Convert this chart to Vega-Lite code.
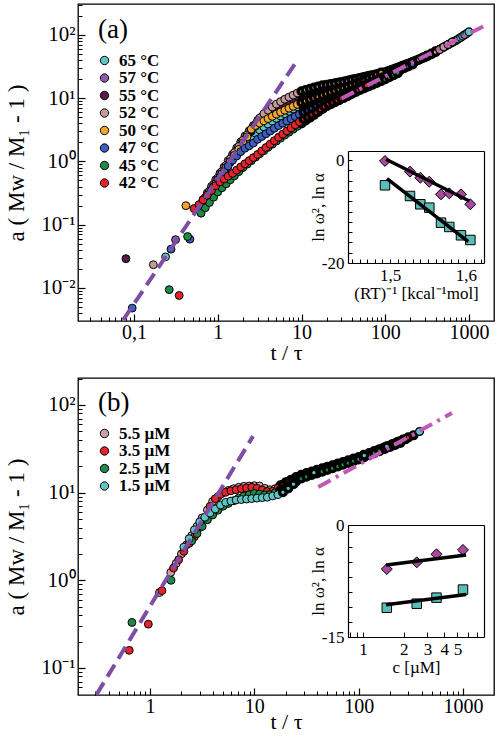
{
"$schema": "https://vega.github.io/schema/vega-lite/v6.json",
"padding": {"left": 5, "top": 3, "right": 0, "bottom": 0},
"spacing": 12,
"config": {
 "font": "Liberation Serif",
 "view": {"stroke": "black", "strokeWidth": 1.3},
 "axis": {"labelFont": "Liberation Serif", "titleFont": "Liberation Serif", "titleFontWeight": "normal", "labelColor": "black", "titleColor": "black", "tickColor": "black", "domainColor": "black", "domainWidth": 1.2, "grid": false, "labelFlush": false, "labelOverlap": false},
 "legend": {"title": null, "padding": 0, "rowPadding": -0.5, "symbolType": "circle", "symbolSize": 70, "symbolStrokeColor": "black", "symbolStrokeWidth": 1, "labelFont": "Liberation Serif", "labelFontWeight": "bold", "labelFontSize": 17, "labelColor": "black", "labelOffset": 6},
 "title": {"font": "Liberation Serif", "fontWeight": "normal", "color": "black"}
},
"resolve": {"scale": {"x": "independent", "y": "independent", "color": "independent", "strokeWidth": "independent", "size": "independent"}},
"datasets": {
 "ptsA": [
  {"s":"65","t":0.238,"y":0.031},{"s":"65","t":0.708,"y":0.245},{"s":"65","t":0.794,"y":0.311},{"s":"65","t":0.891,"y":0.394},{"s":"65","t":1,"y":0.5},{"s":"65","t":1.12,"y":0.624},{"s":"65","t":1.26,"y":0.78},{"s":"65","t":1.41,"y":0.97},{"s":"65","t":1.58,"y":1.21},{"s":"65","t":1.78,"y":1.52},{"s":"65","t":2,"y":1.9},{"s":"65","t":2.24,"y":2.16},{"s":"65","t":2.51,"y":2.45},{"s":"65","t":2.82,"y":2.8},{"s":"65","t":3.16,"y":3.15},{"s":"65","t":3.55,"y":3.5},{"s":"65","t":3.98,"y":3.89},{"s":"65","t":4.47,"y":4.33},{"s":"65","t":5.01,"y":4.8},{"s":"65","t":5.62,"y":5.23},{"s":"65","t":6.31,"y":5.7},{"s":"65","t":7.08,"y":6.21},{"s":"65","t":7.94,"y":6.75},{"s":"65","t":8.91,"y":7.35},{"s":"65","t":10,"y":8},{"s":"65","t":11.2,"y":8.5},{"s":"65","t":12.6,"y":9.02},{"s":"65","t":14.1,"y":9.59},{"s":"65","t":15.8,"y":10.2},{"s":"65","t":17.8,"y":10.8},{"s":"65","t":20,"y":11.5},{"s":"65","t":22.4,"y":12.1},{"s":"65","t":25.1,"y":12.8},{"s":"65","t":28.2,"y":13.5},{"s":"65","t":31.6,"y":14.2},{"s":"65","t":35.5,"y":15},{"s":"65","t":39.8,"y":15.8},{"s":"65","t":44.7,"y":16.6},{"s":"65","t":50.1,"y":17.5},{"s":"65","t":56.2,"y":18.5},{"s":"65","t":63.1,"y":19.5},{"s":"65","t":70.8,"y":20.5},{"s":"65","t":79.4,"y":21.6},{"s":"65","t":89.1,"y":22.8},{"s":"65","t":100,"y":24},{"s":"65","t":112,"y":25.5},{"s":"65","t":126,"y":27.2},{"s":"65","t":141,"y":29},{"s":"65","t":158,"y":30.8},{"s":"65","t":178,"y":32.8},{"s":"65","t":200,"y":35},{"s":"65","t":224,"y":37.7},{"s":"65","t":251,"y":40.6},{"s":"65","t":282,"y":43.8},{"s":"65","t":316,"y":47.2},{"s":"65","t":355,"y":50.9},{"s":"65","t":398,"y":55},{"s":"65","t":422,"y":57.2},{"s":"65","t":447,"y":59.5},{"s":"65","t":473,"y":62},{"s":"65","t":501,"y":64.6},{"s":"65","t":531,"y":67.3},{"s":"65","t":562,"y":70.2},{"s":"65","t":596,"y":73.1},{"s":"65","t":631,"y":76.2},{"s":"65","t":668,"y":79.4},{"s":"65","t":708,"y":82.8},{"s":"65","t":750,"y":86.9},{"s":"65","t":794,"y":91.4},{"s":"65","t":841,"y":96},{"s":"65","t":891,"y":101},{"s":"65","t":944,"y":106},{"s":"65","t":1000,"y":112},
  {"s":"57","t":0.313,"y":0.058},{"s":"57","t":0.596,"y":0.197},{"s":"57","t":0.668,"y":0.251},{"s":"57","t":0.75,"y":0.318},{"s":"57","t":0.841,"y":0.404},{"s":"57","t":0.944,"y":0.514},{"s":"57","t":1.06,"y":0.65},{"s":"57","t":1.19,"y":0.817},{"s":"57","t":1.33,"y":1.03},{"s":"57","t":1.5,"y":1.29},{"s":"57","t":1.68,"y":1.63},{"s":"57","t":1.88,"y":2.04},{"s":"57","t":2.11,"y":2.52},{"s":"57","t":2.37,"y":3.05},{"s":"57","t":2.66,"y":3.69},{"s":"57","t":2.99,"y":4.47},{"s":"57","t":3.35,"y":5.12},{"s":"57","t":3.76,"y":5.85},{"s":"57","t":4.22,"y":6.62},{"s":"57","t":4.73,"y":7.39},{"s":"57","t":5.31,"y":8.15},{"s":"57","t":5.96,"y":8.87},{"s":"57","t":6.68,"y":9.66},{"s":"57","t":7.5,"y":10.4},{"s":"57","t":8.41,"y":11.2},{"s":"57","t":9.44,"y":12.1},{"s":"57","t":10.6,"y":12.8},{"s":"57","t":11.9,"y":13.3},{"s":"57","t":13.3,"y":13.9},{"s":"57","t":15,"y":14.5},{"s":"57","t":16.8,"y":15.1},{"s":"57","t":18.8,"y":15.7},{"s":"57","t":21.1,"y":16.3},{"s":"57","t":23.7,"y":16.8},{"s":"57","t":26.6,"y":17.3},{"s":"57","t":29.9,"y":17.9},{"s":"57","t":33.5,"y":18.5},{"s":"57","t":37.6,"y":19.2},{"s":"57","t":42.2,"y":19.8},{"s":"57","t":47.3,"y":20.5},{"s":"57","t":53.1,"y":21.2},{"s":"57","t":59.6,"y":21.9},{"s":"57","t":66.8,"y":22.7},{"s":"57","t":75,"y":23.4},{"s":"57","t":84.1,"y":24.3},{"s":"57","t":94.4,"y":25.1},{"s":"57","t":106,"y":26.3},{"s":"57","t":119,"y":27.8},{"s":"57","t":133,"y":29.4},{"s":"57","t":150,"y":31.2},{"s":"57","t":168,"y":33},{"s":"57","t":188,"y":34.9},{"s":"57","t":211,"y":37.1},{"s":"57","t":237,"y":39.5},{"s":"57","t":266,"y":42.1},{"s":"57","t":299,"y":44.9},
  {"s":"55","t":0.08,"y":0.029},{"s":"55","t":1.58,"y":1.34},{"s":"55","t":1.78,"y":1.67},{"s":"55","t":2,"y":2.1},{"s":"55","t":2.24,"y":2.51},{"s":"55","t":2.51,"y":3.01},{"s":"55","t":2.82,"y":3.62},{"s":"55","t":3.16,"y":4.24},{"s":"55","t":3.55,"y":4.81},{"s":"55","t":3.98,"y":5.45},{"s":"55","t":4.47,"y":6.19},{"s":"55","t":5.01,"y":7},{"s":"55","t":5.62,"y":7.62},{"s":"55","t":6.31,"y":8.27},{"s":"55","t":7.08,"y":8.98},{"s":"55","t":7.94,"y":9.75},{"s":"55","t":8.91,"y":10.6},{"s":"55","t":10,"y":11.5},{"s":"55","t":11.2,"y":12},{"s":"55","t":12.6,"y":12.4},{"s":"55","t":14.1,"y":12.9},{"s":"55","t":15.8,"y":13.4},{"s":"55","t":17.8,"y":13.9},{"s":"55","t":20,"y":14.5},{"s":"55","t":22.4,"y":15},{"s":"55","t":25.1,"y":15.5},{"s":"55","t":28.2,"y":16},{"s":"55","t":31.6,"y":16.6},{"s":"55","t":35.5,"y":17.2},{"s":"55","t":39.8,"y":17.8},{"s":"55","t":44.7,"y":18.4},{"s":"55","t":50.1,"y":19},{"s":"55","t":56.2,"y":19.8},{"s":"55","t":63.1,"y":20.5},{"s":"55","t":70.8,"y":21.4},{"s":"55","t":79.4,"y":22.2},{"s":"55","t":89.1,"y":23.1},{"s":"55","t":100,"y":24},
  {"s":"52","t":0.17,"y":0.0233},{"s":"52","t":0.631,"y":0.211},{"s":"52","t":0.708,"y":0.268},{"s":"52","t":0.794,"y":0.341},{"s":"52","t":0.891,"y":0.433},{"s":"52","t":1,"y":0.549},{"s":"52","t":1.12,"y":0.692},{"s":"52","t":1.26,"y":0.871},{"s":"52","t":1.41,"y":1.1},{"s":"52","t":1.58,"y":1.38},{"s":"52","t":1.78,"y":1.73},{"s":"52","t":2,"y":2.16},{"s":"52","t":2.24,"y":2.63},{"s":"52","t":2.51,"y":3.19},{"s":"52","t":2.82,"y":3.86},{"s":"52","t":3.16,"y":4.85},{"s":"52","t":3.55,"y":5.69},{"s":"52","t":3.98,"y":6.47},{"s":"52","t":4.47,"y":7.27},{"s":"52","t":5.01,"y":8.07},{"s":"52","t":5.62,"y":8.84},{"s":"52","t":6.31,"y":9.63},{"s":"52","t":7.08,"y":10.4},{"s":"52","t":7.94,"y":11.2},{"s":"52","t":8.91,"y":12.1},{"s":"52","t":10,"y":12.9},{"s":"52","t":11.2,"y":13.5},{"s":"52","t":12.6,"y":14.1},{"s":"52","t":14.1,"y":14.7},{"s":"52","t":15.8,"y":15.3},{"s":"52","t":17.8,"y":16},{"s":"52","t":20,"y":16.3},{"s":"52","t":22.4,"y":16.7},{"s":"52","t":25.1,"y":17.2},{"s":"52","t":28.2,"y":17.7},{"s":"52","t":31.6,"y":18.2},{"s":"52","t":35.5,"y":18.8},{"s":"52","t":39.8,"y":19.5},{"s":"52","t":44.7,"y":20.1},{"s":"52","t":50.1,"y":20.8},{"s":"52","t":56.2,"y":21.5},{"s":"52","t":63.1,"y":22.3},{"s":"52","t":70.8,"y":23},{"s":"52","t":79.4,"y":23.8},{"s":"52","t":89.1,"y":24.7},{"s":"52","t":100,"y":25.7},{"s":"52","t":112,"y":27},{"s":"52","t":126,"y":28.6},{"s":"52","t":141,"y":30.3},{"s":"52","t":158,"y":32.1},{"s":"52","t":178,"y":34},{"s":"52","t":200,"y":36},{"s":"52","t":224,"y":38.3},{"s":"52","t":251,"y":40.8},{"s":"52","t":282,"y":43.5},{"s":"52","t":316,"y":46.4},{"s":"52","t":355,"y":49.6},{"s":"52","t":398,"y":53.7},{"s":"52","t":447,"y":58.9},{"s":"52","t":501,"y":64.6},{"s":"52","t":562,"y":70.8},{"s":"52","t":631,"y":77.5},
  {"s":"50","t":0.416,"y":0.2},{"s":"50","t":0.708,"y":0.239},{"s":"50","t":0.794,"y":0.307},{"s":"50","t":0.891,"y":0.396},{"s":"50","t":1,"y":0.51},{"s":"50","t":1.12,"y":0.64},{"s":"50","t":1.26,"y":0.8},{"s":"50","t":1.41,"y":1},{"s":"50","t":1.58,"y":1.25},{"s":"50","t":1.78,"y":1.55},{"s":"50","t":2,"y":1.95},{"s":"50","t":2.24,"y":2.45},{"s":"50","t":2.51,"y":3.24},{"s":"50","t":2.82,"y":3.7},{"s":"50","t":3.16,"y":4.05},{"s":"50","t":3.55,"y":4.39},{"s":"50","t":3.98,"y":4.76},{"s":"50","t":4.47,"y":5.17},{"s":"50","t":5.01,"y":5.61},{"s":"50","t":5.62,"y":6.03},{"s":"50","t":6.31,"y":6.47},{"s":"50","t":7.08,"y":6.95},{"s":"50","t":7.94,"y":7.45},{"s":"50","t":8.91,"y":8},{"s":"50","t":10,"y":8.59},{"s":"50","t":11.2,"y":9.06},{"s":"50","t":12.6,"y":9.55},{"s":"50","t":14.1,"y":10.07},{"s":"50","t":15.8,"y":10.6},{"s":"50","t":17.8,"y":11.2},{"s":"50","t":20,"y":11.8},{"s":"50","t":22.4,"y":12.4},{"s":"50","t":25.1,"y":13},{"s":"50","t":28.2,"y":13.7},{"s":"50","t":31.6,"y":14.4},{"s":"50","t":35.5,"y":15.1},{"s":"50","t":39.8,"y":15.9},{"s":"50","t":44.7,"y":16.7},{"s":"50","t":50.1,"y":17.5},{"s":"50","t":56.2,"y":18.9},{"s":"50","t":63.1,"y":20.3},{"s":"50","t":70.8,"y":21.9},{"s":"50","t":79.4,"y":23.6},{"s":"50","t":89.1,"y":25.5},
  {"s":"47","t":0.095,"y":0.0048},{"s":"47","t":0.276,"y":0.041},{"s":"47","t":0.464,"y":0.059},{"s":"47","t":0.596,"y":0.173},{"s":"47","t":0.668,"y":0.219},{"s":"47","t":0.75,"y":0.277},{"s":"47","t":0.841,"y":0.351},{"s":"47","t":0.944,"y":0.445},{"s":"47","t":1.06,"y":0.556},{"s":"47","t":1.19,"y":0.686},{"s":"47","t":1.33,"y":0.847},{"s":"47","t":1.5,"y":1.045},{"s":"47","t":1.68,"y":1.22},{"s":"47","t":1.88,"y":1.43},{"s":"47","t":2.11,"y":1.62},{"s":"47","t":2.37,"y":1.77},{"s":"47","t":2.66,"y":1.95},{"s":"47","t":2.99,"y":2.24},{"s":"47","t":3.35,"y":2.48},{"s":"47","t":3.76,"y":2.74},{"s":"47","t":4.22,"y":3.02},{"s":"47","t":4.73,"y":3.34},{"s":"47","t":5.31,"y":3.69},{"s":"47","t":5.96,"y":4.02},{"s":"47","t":6.68,"y":4.36},{"s":"47","t":7.5,"y":4.73},{"s":"47","t":8.41,"y":5.13},{"s":"47","t":9.44,"y":5.56},{"s":"47","t":10.6,"y":6.01},{"s":"47","t":11.9,"y":6.47},{"s":"47","t":13.3,"y":6.97},{"s":"47","t":15,"y":7.48},{"s":"47","t":16.8,"y":8.05},{"s":"47","t":18.8,"y":8.67},{"s":"47","t":21.1,"y":9.27},{"s":"47","t":23.7,"y":9.89},{"s":"47","t":26.6,"y":10.5},{"s":"47","t":29.9,"y":11.2},{"s":"47","t":33.5,"y":12},{"s":"47","t":37.6,"y":12.8},{"s":"47","t":42.2,"y":13.6},{"s":"47","t":47.3,"y":14.5},{"s":"47","t":53.1,"y":15.5},{"s":"47","t":59.6,"y":16.5},{"s":"47","t":66.8,"y":17.6},{"s":"47","t":75,"y":18.7},{"s":"47","t":84.1,"y":20},{"s":"47","t":94.4,"y":21.3},{"s":"47","t":106,"y":22.7},{"s":"47","t":119,"y":24.3},{"s":"47","t":133,"y":26.1},{"s":"47","t":150,"y":27.9},{"s":"47","t":168,"y":29.8},{"s":"47","t":188,"y":31.9},{"s":"47","t":211,"y":34.1},
  {"s":"45","t":0.263,"y":0.0094},{"s":"45","t":0.436,"y":0.065},{"s":"45","t":0.631,"y":0.152},{"s":"45","t":0.708,"y":0.185},{"s":"45","t":0.794,"y":0.224},{"s":"45","t":0.891,"y":0.272},{"s":"45","t":1,"y":0.33},{"s":"45","t":1.12,"y":0.383},{"s":"45","t":1.26,"y":0.443},{"s":"45","t":1.41,"y":0.513},{"s":"45","t":1.58,"y":0.594},{"s":"45","t":1.78,"y":0.689},{"s":"45","t":2,"y":0.8},{"s":"45","t":2.24,"y":0.906},{"s":"45","t":2.51,"y":1.03},{"s":"45","t":2.82,"y":1.17},{"s":"45","t":3.16,"y":1.32},{"s":"45","t":3.55,"y":1.48},{"s":"45","t":3.98,"y":1.67},{"s":"45","t":4.47,"y":1.87},{"s":"45","t":5.01,"y":2.1},{"s":"45","t":5.62,"y":2.34},{"s":"45","t":6.31,"y":2.61},{"s":"45","t":7.08,"y":2.9},{"s":"45","t":7.94,"y":3.23},{"s":"45","t":8.91,"y":3.59},{"s":"45","t":10,"y":4},{"s":"45","t":11.2,"y":4.44},{"s":"45","t":12.6,"y":4.93},{"s":"45","t":14.1,"y":5.47},{"s":"45","t":15.8,"y":6.07},{"s":"45","t":17.8,"y":6.75},{"s":"45","t":20,"y":7.5},{"s":"45","t":22.4,"y":8.05},{"s":"45","t":25.1,"y":8.69},{"s":"45","t":28.2,"y":9.35},{"s":"45","t":31.6,"y":10.07},{"s":"45","t":35.5,"y":10.8},{"s":"45","t":39.8,"y":11.7},{"s":"45","t":44.7,"y":12.6},{"s":"45","t":50.1,"y":13.5},{"s":"45","t":56.2,"y":14.4},{"s":"45","t":63.1,"y":15.4},{"s":"45","t":70.8,"y":16.4},{"s":"45","t":79.4,"y":17.5},{"s":"45","t":89.1,"y":18.7},{"s":"45","t":100,"y":20},{"s":"45","t":112,"y":21.5},{"s":"45","t":126,"y":23.2},{"s":"45","t":141,"y":25},
  {"s":"42","t":0.346,"y":0.0076},{"s":"42","t":0.52,"y":0.18},{"s":"42","t":0.596,"y":0.208},{"s":"42","t":0.668,"y":0.247},{"s":"42","t":0.75,"y":0.293},{"s":"42","t":0.841,"y":0.348},{"s":"42","t":0.944,"y":0.413},{"s":"42","t":1.06,"y":0.474},{"s":"42","t":1.19,"y":0.526},{"s":"42","t":1.33,"y":0.585},{"s":"42","t":1.5,"y":0.649},{"s":"42","t":1.68,"y":0.728},{"s":"42","t":1.88,"y":0.818},{"s":"42","t":2.11,"y":0.918},{"s":"42","t":2.37,"y":1.03},{"s":"42","t":2.66,"y":1.15},{"s":"42","t":2.99,"y":1.29},{"s":"42","t":3.35,"y":1.47},{"s":"42","t":3.76,"y":1.66},{"s":"42","t":4.22,"y":1.88},{"s":"42","t":4.73,"y":2.13},{"s":"42","t":5.31,"y":2.41},{"s":"42","t":5.96,"y":2.71},{"s":"42","t":6.68,"y":3.03},{"s":"42","t":7.5,"y":3.39},{"s":"42","t":8.41,"y":3.79},{"s":"42","t":9.44,"y":4.25},{"s":"42","t":10.6,"y":4.69},{"s":"42","t":11.9,"y":5.08},{"s":"42","t":13.3,"y":5.52},{"s":"42","t":15,"y":5.98},{"s":"42","t":16.8,"y":6.65},{"s":"42","t":18.8,"y":7.4},{"s":"42","t":21.1,"y":8.07},{"s":"42","t":23.7,"y":8.67},{"s":"42","t":26.6,"y":9.31},{"s":"42","t":29.9,"y":10},{"s":"42","t":33.5,"y":10.7},{"s":"42","t":37.6,"y":11.5},{"s":"42","t":42.2,"y":12.5},{"s":"42","t":47.3,"y":13.5},{"s":"42","t":53.1,"y":14.7},{"s":"42","t":59.6,"y":15.9}
 ],
 "linA": [{"l":"p","t":0.074,"y":0.0031},{"l":"p","t":8.7,"y":38},{"l":"m","t":30,"y":9.9},{"l":"m","t":1700,"y":150}],
 "insA": [
  {"k":"d","x":1.4934,"y":-0.19},{"k":"d","x":1.5263,"y":-2.27},{"k":"d","x":1.5399,"y":-3.44},{"k":"d","x":1.5517,"y":-4.21},{"k":"d","x":1.5671,"y":-6.66},{"k":"d","x":1.578,"y":-6.47},{"k":"d","x":1.5934,"y":-6.66},{"k":"d","x":1.6057,"y":-8.6},
  {"k":"q","x":1.4934,"y":-4.91},{"k":"q","x":1.5263,"y":-6.99},{"k":"q","x":1.5399,"y":-8.6},{"k":"q","x":1.5517,"y":-9.26},{"k":"q","x":1.5671,"y":-12.17},{"k":"q","x":1.578,"y":-13},{"k":"q","x":1.5934,"y":-14.62},{"k":"q","x":1.6057,"y":-15.53}
 ],
 "insAl": [{"k":"d","x":1.4947,"y":0.14},{"k":"d","x":1.6043,"y":-7.96},{"k":"q","x":1.496,"y":-3.63},{"k":"q","x":1.603,"y":-15.86}],
 "ptsB": [
  {"s":"5.5","t":1.23,"y":0.725},{"s":"5.5","t":1.58,"y":1.23},{"s":"5.5","t":1.78,"y":1.56},{"s":"5.5","t":2,"y":2},{"s":"5.5","t":2.24,"y":2.54},{"s":"5.5","t":2.51,"y":3.24},{"s":"5.5","t":2.82,"y":4.12},{"s":"5.5","t":3.16,"y":5.15},{"s":"5.5","t":3.55,"y":6.35},{"s":"5.5","t":3.98,"y":7.93},{"s":"5.5","t":4.47,"y":8.93},{"s":"5.5","t":5.01,"y":10},{"s":"5.5","t":5.62,"y":10.6},{"s":"5.5","t":6.31,"y":11.1},{"s":"5.5","t":7.08,"y":11.5},{"s":"5.5","t":7.94,"y":11.8},{"s":"5.5","t":8.91,"y":11.9},{"s":"5.5","t":10,"y":12},{"s":"5.5","t":11.2,"y":11.9},{"s":"5.5","t":12.6,"y":11.2},{"s":"5.5","t":14.1,"y":10.8},{"s":"5.5","t":15.8,"y":11.1},{"s":"5.5","t":17.8,"y":12.1},{"s":"5.5","t":20,"y":13.1},{"s":"5.5","t":22.4,"y":14},{"s":"5.5","t":25.1,"y":15},{"s":"5.5","t":28.2,"y":16},{"s":"5.5","t":31.6,"y":16.7},{"s":"5.5","t":35.5,"y":17.4},{"s":"5.5","t":39.8,"y":18.2},{"s":"5.5","t":44.7,"y":18.9},{"s":"5.5","t":50.1,"y":19.7},{"s":"5.5","t":56.2,"y":20.5},{"s":"5.5","t":63.1,"y":21.4},{"s":"5.5","t":70.8,"y":22.3},{"s":"5.5","t":79.4,"y":23.4},{"s":"5.5","t":89.1,"y":24.4},{"s":"5.5","t":100,"y":25.5},{"s":"5.5","t":112,"y":26.9},{"s":"5.5","t":126,"y":28.2},{"s":"5.5","t":141,"y":29.7},{"s":"5.5","t":158,"y":31.2},{"s":"5.5","t":178,"y":32.8},{"s":"5.5","t":200,"y":34.5},{"s":"5.5","t":224,"y":36.5},{"s":"5.5","t":251,"y":38.5},{"s":"5.5","t":282,"y":40.7},
  {"s":"3.5","t":0.632,"y":0.159},{"s":"3.5","t":0.963,"y":0.316},{"s":"3.5","t":1.3,"y":0.763},{"s":"3.5","t":1.68,"y":1.38},{"s":"3.5","t":1.88,"y":1.72},{"s":"3.5","t":2.11,"y":2.14},{"s":"3.5","t":2.37,"y":2.64},{"s":"3.5","t":2.66,"y":3.14},{"s":"3.5","t":2.99,"y":4},{"s":"3.5","t":3.35,"y":5.13},{"s":"3.5","t":3.76,"y":6.97},{"s":"3.5","t":4.22,"y":8.51},{"s":"3.5","t":4.73,"y":9.55},{"s":"3.5","t":5.31,"y":10.1},{"s":"3.5","t":5.96,"y":10.5},{"s":"3.5","t":6.68,"y":10.8},{"s":"3.5","t":7.5,"y":11.1},{"s":"3.5","t":8.41,"y":11.3},{"s":"3.5","t":9.44,"y":11.5},{"s":"3.5","t":10.6,"y":11.2},{"s":"3.5","t":11.9,"y":10.7},{"s":"3.5","t":13.3,"y":10.3},{"s":"3.5","t":15,"y":10.4},{"s":"3.5","t":16.8,"y":11.2},{"s":"3.5","t":18.8,"y":12.3},{"s":"3.5","t":21.1,"y":13.2},{"s":"3.5","t":23.7,"y":14.1},{"s":"3.5","t":26.6,"y":15},{"s":"3.5","t":29.9,"y":15.9},{"s":"3.5","t":33.5,"y":16.5},{"s":"3.5","t":37.6,"y":17.3},{"s":"3.5","t":42.2,"y":18},{"s":"3.5","t":47.3,"y":18.8},{"s":"3.5","t":53.1,"y":19.6},{"s":"3.5","t":59.6,"y":20.5},{"s":"3.5","t":66.8,"y":21.3},{"s":"3.5","t":75,"y":22.1},{"s":"3.5","t":84.1,"y":23.1},{"s":"3.5","t":94.4,"y":24},{"s":"3.5","t":106,"y":25.2},{"s":"3.5","t":119,"y":26.7},{"s":"3.5","t":133,"y":28.4},{"s":"3.5","t":150,"y":30.1},{"s":"3.5","t":168,"y":31.9},{"s":"3.5","t":188,"y":33.8},{"s":"3.5","t":211,"y":35.8},{"s":"3.5","t":237,"y":37.9},{"s":"3.5","t":266,"y":40.2},{"s":"3.5","t":299,"y":42.6},{"s":"3.5","t":335,"y":45.1},
  {"s":"2.5","t":0.671,"y":0.331},{"s":"2.5","t":1.59,"y":1},{"s":"2.5","t":2.51,"y":2.82},{"s":"2.5","t":2.82,"y":3.41},{"s":"2.5","t":3.16,"y":4.12},{"s":"2.5","t":3.55,"y":4.91},{"s":"2.5","t":3.98,"y":5.56},{"s":"2.5","t":4.47,"y":6.3},{"s":"2.5","t":5.01,"y":7},{"s":"2.5","t":5.62,"y":7.52},{"s":"2.5","t":6.31,"y":8.07},{"s":"2.5","t":7.08,"y":8.67},{"s":"2.5","t":7.94,"y":9.15},{"s":"2.5","t":8.91,"y":9.46},{"s":"2.5","t":10,"y":9.8},{"s":"2.5","t":11.2,"y":9.62},{"s":"2.5","t":12.6,"y":9.45},{"s":"2.5","t":14.1,"y":9.5},{"s":"2.5","t":15.8,"y":9.96},{"s":"2.5","t":17.8,"y":10.6},{"s":"2.5","t":20,"y":11.4},{"s":"2.5","t":22.4,"y":12.3},{"s":"2.5","t":25.1,"y":13.4},{"s":"2.5","t":28.2,"y":14.5},{"s":"2.5","t":31.6,"y":15.2},{"s":"2.5","t":35.5,"y":15.9},{"s":"2.5","t":39.8,"y":16.6},{"s":"2.5","t":44.7,"y":17.4},{"s":"2.5","t":50.1,"y":18.2},{"s":"2.5","t":56.2,"y":19},{"s":"2.5","t":63.1,"y":19.9},{"s":"2.5","t":70.8,"y":20.8},{"s":"2.5","t":79.4,"y":21.8},{"s":"2.5","t":89.1,"y":22.9},{"s":"2.5","t":100,"y":24},{"s":"2.5","t":112,"y":25.3},{"s":"2.5","t":126,"y":26.7},{"s":"2.5","t":141,"y":28.2},{"s":"2.5","t":158,"y":29.8},{"s":"2.5","t":178,"y":31.5},{"s":"2.5","t":200,"y":33.2},{"s":"2.5","t":224,"y":35.1},{"s":"2.5","t":251,"y":37},
  {"s":"1.5","t":2.11,"y":2.39},{"s":"1.5","t":2.37,"y":2.99},{"s":"1.5","t":2.66,"y":3.76},{"s":"1.5","t":2.99,"y":4.63},{"s":"1.5","t":3.35,"y":5.24},{"s":"1.5","t":3.76,"y":5.86},{"s":"1.5","t":4.22,"y":6.51},{"s":"1.5","t":4.73,"y":7.23},{"s":"1.5","t":5.31,"y":7.74},{"s":"1.5","t":5.96,"y":8.01},{"s":"1.5","t":6.68,"y":8.24},{"s":"1.5","t":7.5,"y":8.34},{"s":"1.5","t":8.41,"y":8.45},{"s":"1.5","t":9.44,"y":8.55},{"s":"1.5","t":10.6,"y":8.66},{"s":"1.5","t":11.9,"y":8.77},{"s":"1.5","t":13.3,"y":8.87},{"s":"1.5","t":15,"y":9.17},{"s":"1.5","t":16.8,"y":9.48},{"s":"1.5","t":18.8,"y":10.1},{"s":"1.5","t":21.1,"y":11.2},{"s":"1.5","t":23.7,"y":12.5},{"s":"1.5","t":37.2,"y":16.9},{"s":"1.5","t":113,"y":26.5},{"s":"1.5","t":186,"y":33.6},{"s":"1.5","t":383,"y":49.8}
 ],
 "linB": [{"l":"p","t":0.307,"y":0.0497},{"l":"p","t":9.71,"y":44.1},{"l":"m","t":41,"y":11.6},{"l":"m","t":783,"y":81}],
 "insB": [
  {"k":"d","x":1.5,"y":-5.9},{"k":"d","x":2.5,"y":-5},{"k":"d","x":3.5,"y":-3.92},{"k":"d","x":5.5,"y":-3.34},
  {"k":"q","x":1.5,"y":-11.08},{"k":"q","x":2.5,"y":-10.54},{"k":"q","x":3.5,"y":-9.73},{"k":"q","x":5.5,"y":-8.65}
 ],
 "insBl": [{"k":"d","x":1.48,"y":-5.36},{"k":"d","x":5.8,"y":-4.01},{"k":"q","x":1.48,"y":-10.68},{"k":"q","x":5.8,"y":-9.32}]
},
"vconcat": [
 {
  "width": 416, "height": 317,
  "title": {"text": "(a)", "anchor": "start", "frame": "group", "offset": -61, "dx": 20, "fontSize": 27, "baseline": "alphabetic"},
  "layer": [
   {
    "layer": [
     {"data": {"name": "ptsA"}, "mark": {"type": "circle", "opacity": 1, "stroke": "black"},
      "encoding": {
       "x": {"field": "t", "type": "quantitative", "scale": {"type": "log", "domain": [0.0214, 1990], "nice": false},
             "axis": {"orient": "bottom", "values": [0.1, 1, 10, 100, 1000], "labelExpr": "datum.value < 0.5 ? '0,1' : '' + datum.value", "ticks": false, "domain": false, "labelPadding": 1.5, "labelFontSize": 20, "title": "t / τ", "titleFontSize": 22, "titlePadding": 0}},
       "y": {"field": "y", "type": "quantitative", "scale": {"type": "log", "domain": [0.003, 309], "nice": false},
             "axis": {"orient": "left", "values": [0.01, 0.1, 1, 10, 100], "labelExpr": "datum.value > 50 ? '10²' : datum.value > 5 ? '10¹' : datum.value > 0.5 ? '10⁰' : datum.value > 0.05 ? '10⁻¹' : '10⁻²'", "ticks": false, "domain": false, "labelPadding": 3, "labelFontSize": 21, "title": "a ( Mw / M₁ - 1 )", "titleFontSize": 23, "titlePadding": 12}},
       "color": {"field": "s", "type": "nominal", "scale": {"domain": ["65", "57", "55", "52", "50", "47", "45", "42"], "range": ["#5fc4c4", "#8a5ab0", "#5a1a48", "#c39a9a", "#f4a62a", "#3b5fc0", "#1e8a4a", "#e5232a"]},
                 "legend": {"orient": "none", "legendX": 18, "legendY": 48, "labelExpr": "datum.label + ' °C'"}},
       "strokeWidth": {"field": "t", "type": "quantitative", "scale": {"type": "threshold", "domain": [10, 400], "range": [1, 3.4, 1.2]}, "legend": null},
       "size": {"field": "t", "type": "quantitative", "scale": {"type": "threshold", "domain": [10, 400], "range": [62, 46, 62]}, "legend": null}
      }},
     {"data": {"name": "linA"}, "transform": [{"filter": "datum.l == 'p'"}],
      "mark": {"type": "line", "color": "#7e4ea5", "strokeWidth": 4, "strokeDash": [14, 7], "clip": true},
      "encoding": {
       "x": {"field": "t", "type": "quantitative", "scale": {"type": "log", "domain": [0.0214, 1990], "nice": false},
             "axis": {"orient": "bottom", "values": [0.1, 1, 10, 100, 1000], "labels": false, "domain": false, "tickSize": -7, "tickWidth": 1.2, "title": null}},
       "y": {"field": "y", "type": "quantitative", "scale": {"type": "log", "domain": [0.003, 309], "nice": false},
             "axis": {"orient": "left", "values": [0.01, 0.1, 1, 10, 100], "labels": false, "domain": false, "tickSize": -7, "tickWidth": 1.2, "title": null}}
      }},
     {"data": {"name": "linA"}, "transform": [{"filter": "datum.l == 'm'"}],
      "mark": {"type": "line", "color": "#c158b6", "strokeWidth": 4, "strokeDash": [14, 6, 3, 6], "clip": true},
      "encoding": {
       "x": {"field": "t", "type": "quantitative", "scale": {"type": "log", "domain": [0.0214, 1990], "nice": false},
             "axis": {"orient": "bottom", "values": [0.03, 0.04, 0.05, 0.06, 0.07, 0.08, 0.09, 0.2, 0.3, 0.4, 0.5, 0.6, 0.7, 0.8, 0.9, 2, 3, 4, 5, 6, 7, 8, 9, 20, 30, 40, 50, 60, 70, 80, 90, 200, 300, 400, 500, 600, 700, 800, 900], "labels": false, "domain": false, "tickSize": -4, "tickWidth": 1, "title": null}},
       "y": {"field": "y", "type": "quantitative", "scale": {"type": "log", "domain": [0.003, 309], "nice": false},
             "axis": {"orient": "left", "values": [0.004, 0.005, 0.006, 0.007, 0.008, 0.009, 0.02, 0.03, 0.04, 0.05, 0.06, 0.07, 0.08, 0.09, 0.2, 0.3, 0.4, 0.5, 0.6, 0.7, 0.8, 0.9, 2, 3, 4, 5, 6, 7, 8, 9, 20, 30, 40, 50, 60, 70, 80, 90, 200, 300], "labels": false, "domain": false, "tickSize": -4, "tickWidth": 1, "title": null}}
      }}
    ],
    "resolve": {"axis": {"x": "independent", "y": "independent"}}
   },
   {
    "layer": [
     {"data": {"name": "insA"}, "transform": [{"filter": "datum.k == 'q'"}],
      "mark": {"type": "point", "shape": "square", "filled": true, "size": 90, "color": "#5bbdb8", "stroke": "black", "strokeWidth": 1, "opacity": 1},
      "encoding": {
       "x": {"field": "x", "type": "quantitative", "scale": {"domain": [1.4447, 1.6237], "range": [270, 406], "nice": false, "zero": false},
             "axis": {"orient": "bottom", "offset": -58, "values": [1.5, 1.6], "labelExpr": "replace(format(datum.value, '.1f'), '.', ',')", "ticks": false, "domain": true, "labelPadding": 4, "labelFontSize": 17, "title": "(RT)⁻¹ [kcal⁻¹mol]", "titleFontSize": 17, "titlePadding": 2}},
       "y": {"field": "y", "type": "quantitative", "scale": {"domain": [-20, 1.75], "range": [259, 147], "nice": false, "zero": false},
             "axis": {"orient": "left", "offset": -270, "values": [-20, 0], "labelExpr": "'' + datum.value", "ticks": false, "domain": true, "labelPadding": 4, "labelFontSize": 17, "title": "ln ω², ln α", "titleFontSize": 17, "titlePadding": -6}}
      }},
     {"data": {"name": "insA"}, "transform": [{"filter": "datum.k == 'd'"}],
      "mark": {"type": "point", "shape": "diamond", "filled": true, "size": 120, "color": "#a8489e", "stroke": "black", "strokeWidth": 1, "opacity": 1},
      "encoding": {
       "x": {"field": "x", "type": "quantitative", "scale": {"domain": [1.4447, 1.6237], "range": [270, 406], "nice": false, "zero": false},
             "axis": {"orient": "bottom", "offset": -58, "values": [1.45, 1.46, 1.47, 1.48, 1.49, 1.5, 1.51, 1.52, 1.53, 1.54, 1.55, 1.56, 1.57, 1.58, 1.59, 1.6, 1.61, 1.62], "labels": false, "domain": false, "tickSize": -4, "title": null}},
       "y": {"field": "y", "type": "quantitative", "scale": {"domain": [-20, 1.75], "range": [259, 147], "nice": false, "zero": false},
             "axis": {"orient": "left", "offset": -270, "values": [-20, -18, -16, -14, -12, -10, -8, -6, -4, -2, 0], "labels": false, "domain": false, "tickSize": -4, "title": null}}
      }},
     {"data": {"name": "insAl"},
      "mark": {"type": "line", "color": "black", "strokeWidth": 3.5},
      "encoding": {
       "detail": {"field": "k"},
       "x": {"field": "x", "type": "quantitative", "scale": {"domain": [1.4447, 1.6237], "range": [270, 406], "nice": false, "zero": false},
             "axis": {"orient": "top", "offset": -147, "labels": false, "ticks": false, "domain": true, "title": null}},
       "y": {"field": "y", "type": "quantitative", "scale": {"domain": [-20, 1.75], "range": [259, 147], "nice": false, "zero": false},
             "axis": {"orient": "right", "offset": -10, "labels": false, "ticks": false, "domain": true, "title": null}}
      }}
    ],
    "resolve": {"axis": {"x": "independent", "y": "independent"}}
   }
  ],
  "resolve": {"scale": {"x": "independent", "y": "independent"}}
 },
 {
  "width": 416, "height": 317,
  "title": {"text": "(b)", "anchor": "start", "frame": "group", "offset": -60, "dx": 20, "fontSize": 27, "baseline": "alphabetic"},
  "layer": [
   {
    "layer": [
     {"data": {"name": "ptsB"}, "mark": {"type": "circle", "opacity": 1, "stroke": "black"},
      "encoding": {
       "x": {"field": "t", "type": "quantitative", "scale": {"type": "log", "domain": [0.204, 1980], "nice": false},
             "axis": {"orient": "bottom", "values": [1, 10, 100, 1000], "labelExpr": "'' + datum.value", "ticks": false, "domain": false, "labelPadding": 1.5, "labelFontSize": 20, "title": "t / τ", "titleFontSize": 22, "titlePadding": -5}},
       "y": {"field": "y", "type": "quantitative", "scale": {"type": "log", "domain": [0.0492, 203], "nice": false},
             "axis": {"orient": "left", "values": [0.1, 1, 10, 100], "labelExpr": "datum.value > 50 ? '10²' : datum.value > 5 ? '10¹' : datum.value > 0.5 ? '10⁰' : '10⁻¹'", "ticks": false, "domain": false, "labelPadding": 3, "labelFontSize": 21, "title": "a ( Mw / M₁ - 1 )", "titleFontSize": 23, "titlePadding": 12}},
       "color": {"field": "s", "type": "nominal", "scale": {"domain": ["5.5", "3.5", "2.5", "1.5"], "range": ["#c9a3a3", "#e5232a", "#1e8a4a", "#5fc4c4"]},
                 "legend": {"orient": "none", "legendX": 18, "legendY": 47, "labelExpr": "datum.label + ' µM'"}},
       "strokeWidth": {"field": "t", "type": "quantitative", "scale": {"type": "threshold", "domain": [17, 360], "range": [1, 3.4, 1.2]}, "legend": null},
       "size": {"field": "t", "type": "quantitative", "scale": {"type": "threshold", "domain": [17, 360], "range": [62, 46, 62]}, "legend": null}
      }},
     {"data": {"name": "linB"}, "transform": [{"filter": "datum.l == 'p'"}],
      "mark": {"type": "line", "color": "#7e4ea5", "strokeWidth": 4, "strokeDash": [14, 7], "clip": true},
      "encoding": {
       "x": {"field": "t", "type": "quantitative", "scale": {"type": "log", "domain": [0.204, 1980], "nice": false},
             "axis": {"orient": "bottom", "values": [1, 10, 100, 1000], "labels": false, "domain": false, "tickSize": -7, "tickWidth": 1.2, "title": null}},
       "y": {"field": "y", "type": "quantitative", "scale": {"type": "log", "domain": [0.0492, 203], "nice": false},
             "axis": {"orient": "left", "values": [0.1, 1, 10, 100], "labels": false, "domain": false, "tickSize": -7, "tickWidth": 1.2, "title": null}}
      }},
     {"data": {"name": "linB"}, "transform": [{"filter": "datum.l == 'm'"}],
      "mark": {"type": "line", "color": "#c158b6", "strokeWidth": 4, "strokeDash": [14, 6, 3, 6], "clip": true},
      "encoding": {
       "x": {"field": "t", "type": "quantitative", "scale": {"type": "log", "domain": [0.204, 1980], "nice": false},
             "axis": {"orient": "bottom", "values": [0.3, 0.4, 0.5, 0.6, 0.7, 0.8, 0.9, 2, 3, 4, 5, 6, 7, 8, 9, 20, 30, 40, 50, 60, 70, 80, 90, 200, 300, 400, 500, 600, 700, 800, 900], "labels": false, "domain": false, "tickSize": -4, "tickWidth": 1, "title": null}},
       "y": {"field": "y", "type": "quantitative", "scale": {"type": "log", "domain": [0.0492, 203], "nice": false},
             "axis": {"orient": "left", "values": [0.06, 0.07, 0.08, 0.09, 0.2, 0.3, 0.4, 0.5, 0.6, 0.7, 0.8, 0.9, 2, 3, 4, 5, 6, 7, 8, 9, 20, 30, 40, 50, 60, 70, 80, 90, 200], "labels": false, "domain": false, "tickSize": -4, "tickWidth": 1, "title": null}}
      }}
    ],
    "resolve": {"axis": {"x": "independent", "y": "independent"}}
   },
   {
    "layer": [
     {"data": {"name": "insB"}, "transform": [{"filter": "datum.k == 'q'"}],
      "mark": {"type": "point", "shape": "square", "filled": true, "size": 90, "color": "#5bbdb8", "stroke": "black", "strokeWidth": 1, "opacity": 1},
      "encoding": {
       "x": {"field": "x", "type": "quantitative", "scale": {"type": "log", "domain": [0.774, 7.87], "range": [270, 406], "nice": false},
             "axis": {"orient": "bottom", "offset": -58, "values": [1, 2, 3, 4, 5], "labelExpr": "'' + datum.value", "ticks": false, "domain": true, "labelPadding": 4, "labelFontSize": 17, "title": "c [µM]", "titleFontSize": 17, "titlePadding": 2}},
       "y": {"field": "y", "type": "quantitative", "scale": {"domain": [-15, 0], "range": [259, 147], "nice": false, "zero": false},
             "axis": {"orient": "left", "offset": -270, "values": [-15, 0], "labelExpr": "'' + datum.value", "ticks": false, "domain": true, "labelPadding": 4, "labelFontSize": 17, "title": "ln ω², ln α", "titleFontSize": 17, "titlePadding": -6}}
      }},
     {"data": {"name": "insB"}, "transform": [{"filter": "datum.k == 'd'"}],
      "mark": {"type": "point", "shape": "diamond", "filled": true, "size": 120, "color": "#a8489e", "stroke": "black", "strokeWidth": 1, "opacity": 1},
      "encoding": {
       "x": {"field": "x", "type": "quantitative", "scale": {"type": "log", "domain": [0.774, 7.87], "range": [270, 406], "nice": false},
             "axis": {"orient": "bottom", "offset": -58, "values": [0.8, 0.9, 1, 2, 3, 4, 5, 6, 7], "labels": false, "domain": false, "tickSize": -5, "title": null}},
       "y": {"field": "y", "type": "quantitative", "scale": {"domain": [-15, 0], "range": [259, 147], "nice": false, "zero": false},
             "axis": {"orient": "left", "offset": -270, "values": [-15, -13, -11, -9, -7, -5, -3, -1, 0], "labels": false, "domain": false, "tickSize": -4, "title": null}}
      }},
     {"data": {"name": "insBl"},
      "mark": {"type": "line", "color": "black", "strokeWidth": 3.5},
      "encoding": {
       "detail": {"field": "k"},
       "x": {"field": "x", "type": "quantitative", "scale": {"type": "log", "domain": [0.774, 7.87], "range": [270, 406], "nice": false},
             "axis": {"orient": "top", "offset": -147, "labels": false, "ticks": false, "domain": true, "title": null}},
       "y": {"field": "y", "type": "quantitative", "scale": {"domain": [-15, 0], "range": [259, 147], "nice": false, "zero": false},
             "axis": {"orient": "right", "offset": -10, "labels": false, "ticks": false, "domain": true, "title": null}}
      }}
    ],
    "resolve": {"axis": {"x": "independent", "y": "independent"}}
   }
  ],
  "resolve": {"scale": {"x": "independent", "y": "independent"}}
 }
]
}
